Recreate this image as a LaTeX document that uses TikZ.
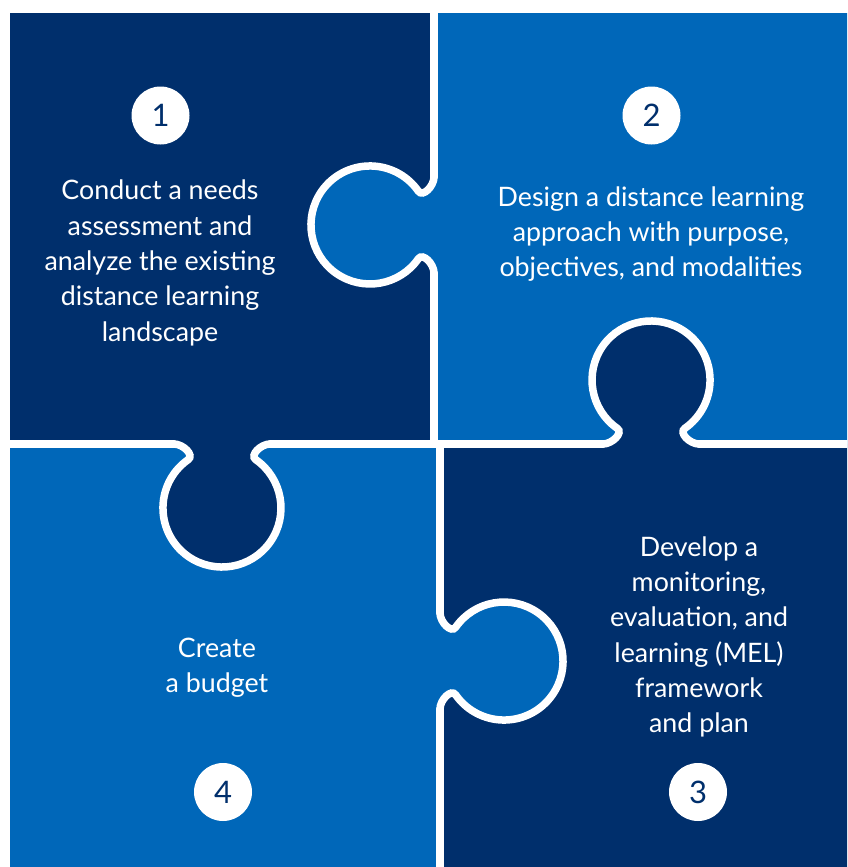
\documentclass[tikz,border=0pt]{standalone}
\usepackage{fontspec}
\setmainfont{Lato}
\definecolor{navy}{HTML}{002F6C}
\definecolor{midblue}{HTML}{0067B9}

\begin{document}
\begin{tikzpicture}[x=1pt,y=-1pt,
   seam/.style={draw=white,line width=7.5pt,line cap=round},
   steptext/.style={text=white,align=center,font=\fontsize{26.8}{35.3}\selectfont},
   num/.style={circle,fill=white,minimum size=58pt,inner sep=0pt,
    text=navy,font=\fontsize{31}{31}\selectfont},
   pics/knob/.style={code={
     \fill[#1] (0,-48) .. controls (0,-39) and (11.1,-27.3) .. (15.7,-33.8)
       arc[start angle=-145,end angle=145,radius=59]
       .. controls (11.1,27.3) and (0,39) .. (0,48) -- cycle;
     \draw[seam] (0,-48) .. controls (0,-39) and (11.1,-27.3) .. (15.7,-33.8)
       arc[start angle=-145,end angle=145,radius=59]
       .. controls (11.1,27.3) and (0,39) .. (0,48);
   }}
   ]
  \useasboundingbox (0,0) rectangle (847,867);
  \clip (0,0) rectangle (847,867);

  % -- pieces
  \fill[navy] (10,13) rectangle (434,444);
  \fill[midblue] (434,13) rectangle (860,444);
  \fill[navy] (440,444) rectangle (860,880);
  \fill[midblue] (10,444) rectangle (440,880);

  % -- seams
  \draw[seam] (434,13) -- (434,177);
  \draw[seam] (434,273) -- (434,444);
  \draw[seam] (440,444) -- (440,613);
  \draw[seam] (440,709) -- (440,880);
  \draw[seam] (10,444) -- (174,444);
  \draw[seam] (270,444) -- (603,444);
  \draw[seam] (699,444) -- (860,444);

  % -- knobs
  \pic[rotate=180] at (434,225) {knob=midblue};
  \pic[rotate=90] at (651,444) {knob=navy};
  \pic[rotate=-90] at (222,444) {knob=navy};
  \pic at (440,661) {knob=midblue};

  % -- numbers
  \node[num] at (160.5,115.5) (n1) {1};
  \node[num] at (651.5,115.5) (n2) {2};
  \node[num] at (698,792) (n3) {3};
  \node[num] at (223,792) (n4) {4};

  % -- texts
  \node[steptext] at (160,263) (t1) {Conduct a needs\\assessment and\\analyze the existing\\distance learning\\landscape};
  \node[steptext] at (651,234) (t2) {Design a distance learning\\approach with purpose,\\objectives, and modalities};
  \node[steptext] at (699,637) (t3) {Develop a\\monitoring,\\evaluation, and\\learning (MEL)\\framework\\and plan};
  \node[steptext] at (217,668) (t4) {Create\\a budget};
\end{tikzpicture}
\end{document}
